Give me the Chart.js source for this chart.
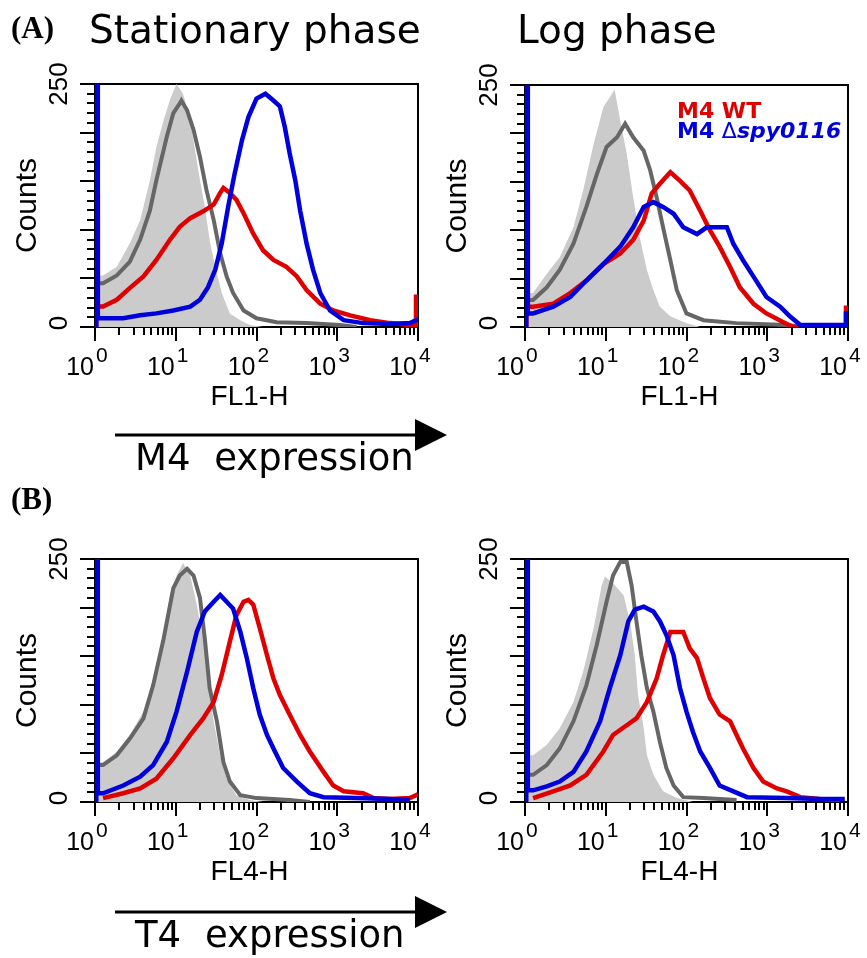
<!DOCTYPE html>
<html><head><meta charset="utf-8">
<script src="https://cdn.jsdelivr.net/npm/chart.js@4.4.1/dist/chart.umd.min.js"></script>
<style>
html,body{margin:0;padding:0;background:#fff;}
#page{position:relative;width:867px;height:958px;overflow:hidden;background:#fff;}
canvas{position:absolute;}
svg{position:absolute;left:0;top:0;pointer-events:none;}
</style></head><body>
<div id="page">
<canvas id="aL" width="440" height="350" style="left:0;top:60px"></canvas>
<canvas id="aR" width="427" height="350" style="left:440px;top:60px"></canvas>
<canvas id="bL" width="440" height="350" style="left:0;top:530px"></canvas>
<canvas id="bR" width="427" height="350" style="left:440px;top:530px"></canvas>
<svg width="867" height="958" xmlns="http://www.w3.org/2000/svg">
 <text x="11" y="38" font-family="Liberation Serif" font-weight="bold" font-size="31">(A)</text>
 <text x="11" y="509" font-family="Liberation Serif" font-weight="bold" font-size="31">(B)</text>
 <text x="89" y="43" font-family="DejaVu Sans" font-size="39">Stationary phase</text>
 <text x="517" y="43" font-family="DejaVu Sans" font-size="39">Log phase</text>
 <line x1="115" y1="435" x2="420" y2="435" stroke="#000" stroke-width="3"/>
 <polygon points="415,419 447,435 415,451" fill="#000"/>
 <text x="135" y="470" font-family="DejaVu Sans" font-size="37">M4<tspan dx="12"> expression</tspan></text>
 <line x1="115" y1="912" x2="420" y2="912" stroke="#000" stroke-width="3"/>
 <polygon points="415,896 447,912 415,928" fill="#000"/>
 <text x="135" y="947" font-family="DejaVu Sans" font-size="37">T4<tspan dx="12"> expression</tspan></text>
 <text x="677" y="118" font-family="DejaVu Sans" font-weight="bold" font-size="22" fill="#e00000">M4 WT</text>
 <text x="677" y="138" font-family="DejaVu Sans" font-size="22" fill="#0000dd"><tspan font-weight="bold">M4 </tspan><tspan>Δ</tspan><tspan font-weight="bold" font-style="italic">spy0116</tspan></text>
</svg>
</div>
<script>
// ---- tick labels ----
const X_EXPONENTS = [0, 1, 2, 3, 4];
const Y_LABELS = [0, 250];
const Y_MAX = 250;

// ---- Panel A, stationary phase (FL1-H) ; x in log10 decades ----
const aL_fillD = [0.00,0.10,0.27,0.43,0.56,0.68,0.76,0.85,0.93,1.01,1.09,1.16,1.22,1.30,1.36,1.42,1.49,1.57,1.67,1.80,1.92,2.08];
const aL_fillC = [53,53,62,86,110,151,185,213,234,250,240,220,192,151,124,89,62,35,14,7,2,0];
const aL_grayD = [0.015,0.015,0.035,0.035,0.10,0.27,0.43,0.56,0.68,0.76,0.89,0.97,1.05,1.07,1.14,1.22,1.30,1.38,1.47,1.55,1.63,1.71,1.84,2.00,2.25,2.62,3.03,3.24];
const aL_grayC = [0,144,144,45,45,53,67,90,120,151,196,220,230,233,223,203,175,141,110,76,52,35,17,9,5,4,2,0];
const aL_redD  = [0.015,0.015,0.035,0.035,0.10,0.27,0.43,0.60,0.76,0.93,1.05,1.18,1.34,1.47,1.55,1.59,1.67,1.75,1.84,1.96,2.08,2.21,2.37,2.50,2.62,2.79,2.95,3.16,3.41,3.65,3.90,3.975,3.975,4.00];
const aL_redC  = [0,134,134,21,21,28,40,52,69,90,103,112,119,126,138,143,138,131,117,96,79,69,62,52,38,24,17,12,7,4,2,2,31,31];
const aL_blueD = [0.015,0.015,0.035,0.035,0.10,0.35,0.56,0.76,0.97,1.18,1.30,1.40,1.49,1.57,1.65,1.73,1.82,1.90,2.00,2.11,2.21,2.29,2.35,2.41,2.48,2.54,2.62,2.70,2.79,2.91,3.08,3.32,3.65,3.90,4.00];
const aL_blueC = [0,300,300,9,9,9,12,14,17,21,28,41,59,86,124,158,192,216,235,240,233,227,206,179,151,120,86,59,35,17,7,4,3,4,8];

// ---- Panel A, log phase (FL1-H) ----
const aR_fillD = [0.00,0.10,0.27,0.43,0.60,0.72,0.85,0.97,1.07,1.11,1.18,1.26,1.34,1.42,1.51,1.59,1.67,1.80,2.00,2.17];
const aR_fillC = [35,35,55,72,103,141,189,227,240,245,213,179,134,93,59,38,21,11,4,0];
const aR_grayD = [0.015,0.015,0.035,0.035,0.10,0.27,0.43,0.60,0.76,0.89,1.01,1.14,1.24,1.34,1.47,1.55,1.63,1.71,1.80,1.88,2.00,2.21,2.62,3.24,3.45];
const aR_grayC = [0,120,120,28,28,41,59,86,124,158,186,196,210,196,182,162,134,103,69,38,14,7,4,2,0];
const aR_redD  = [0.015,0.015,0.035,0.035,0.10,0.35,0.56,0.76,0.97,1.18,1.34,1.47,1.57,1.67,1.80,1.92,2.04,2.17,2.29,2.41,2.54,2.66,2.83,2.99,3.20,3.32,3.975,3.975,4.00];
const aR_redC  = [0,134,134,21,21,24,35,48,65,76,90,110,138,148,160,151,141,120,100,83,62,41,24,14,5,0,0,20,20];
const aR_blueD = [0.015,0.015,0.035,0.035,0.10,0.35,0.56,0.76,0.97,1.18,1.34,1.47,1.59,1.71,1.84,1.96,2.13,2.25,2.41,2.50,2.58,2.70,2.83,2.99,3.16,3.28,3.41,3.65,3.975,3.975,4.00];
const aR_blueC = [0,300,300,14,14,21,31,48,65,83,103,124,129,124,117,103,96,103,103,103,86,69,52,31,21,11,2,2,2,14,14];

// ---- Panel B, stationary phase (FL4-H) ----
const bL_fillD = [0.00,0.10,0.27,0.43,0.60,0.72,0.85,0.93,1.01,1.09,1.18,1.26,1.34,1.40,1.47,1.55,1.63,1.75,1.92,2.08];
const bL_fillC = [41,41,52,69,93,124,168,213,233,246,233,203,168,124,83,48,24,7,2,0];
const bL_grayD = [0.015,0.015,0.035,0.035,0.10,0.27,0.43,0.60,0.72,0.85,0.97,1.05,1.14,1.22,1.30,1.36,1.42,1.51,1.59,1.67,1.80,2.00,2.41,2.66];
const bL_grayC = [0,140,140,38,38,48,65,86,120,168,220,233,240,233,210,168,117,83,41,21,7,4,2,0];
const bL_redD  = [0.10,0.35,0.56,0.76,0.97,1.18,1.34,1.47,1.57,1.67,1.75,1.84,1.90,1.96,2.04,2.13,2.21,2.29,2.41,2.54,2.66,2.83,2.95,3.08,3.32,3.45,3.65,3.90,4.00];
const bL_redC  = [4,9,14,24,45,69,86,103,131,165,192,206,208,203,179,151,127,110,90,69,52,31,17,11,9,4,3,4,8];
const bL_blueD = [0.015,0.015,0.035,0.035,0.10,0.35,0.56,0.72,0.89,1.01,1.14,1.26,1.36,1.47,1.55,1.63,1.71,1.80,1.88,1.96,2.04,2.13,2.21,2.33,2.50,2.66,2.83,3.24,3.65,3.90];
const bL_blueC = [0,300,300,9,9,17,26,38,62,93,134,175,196,206,213,206,199,175,148,117,90,69,55,35,21,9,5,4,3,2];

// ---- Panel B, log phase (FL4-H) ----
const bR_fillD = [0.00,0.10,0.27,0.43,0.60,0.72,0.85,0.95,0.99,1.09,1.22,1.30,1.36,1.40,1.47,1.51,1.59,1.71,1.88,2.08];
const bR_fillC = [48,48,59,76,103,134,179,223,232,225,213,186,151,110,76,48,28,11,4,0];
const bR_grayD = [0.015,0.015,0.035,0.035,0.10,0.27,0.43,0.60,0.76,0.89,1.01,1.09,1.18,1.26,1.32,1.38,1.44,1.51,1.59,1.67,1.75,1.84,1.96,2.21,2.62];
const bR_grayC = [0,140,140,28,28,38,55,83,120,162,206,233,247,247,223,186,151,117,93,62,35,17,5,4,2];
const bR_redD  = [0.10,0.35,0.56,0.76,0.97,1.09,1.26,1.38,1.51,1.63,1.71,1.80,1.96,2.04,2.13,2.21,2.29,2.41,2.54,2.62,2.70,2.83,2.95,3.12,3.24,3.41,3.65,3.90];
const bR_redC  = [4,11,17,28,52,69,79,86,103,127,151,175,175,158,148,127,107,90,83,69,55,35,21,14,11,5,3,2];
const bR_blueD = [0.015,0.015,0.035,0.035,0.10,0.27,0.43,0.60,0.76,0.93,1.05,1.18,1.28,1.36,1.47,1.59,1.67,1.75,1.84,1.92,2.00,2.08,2.17,2.29,2.41,2.58,2.75,3.24,3.65,3.96];
const bR_blueC = [0,300,300,12,12,16,21,31,52,83,117,151,186,198,201,196,186,172,151,117,93,72,52,35,17,11,5,4,3,3];

const BLUE = '#0000dc', RED = '#e00000', DARK = '#666666', LIGHT = '#cbcbcb';
const SANS = '"Liberation Sans", Arial, Helvetica, sans-serif';

function xy(d, c) { return d.map((v, i) => ({ x: Math.pow(10, v), y: c[i] })); }

const framePlugin = {
  id: 'frame',
  beforeDatasetsDraw(chart) {
    const { ctx, chartArea: a } = chart;
    ctx.save();
    ctx.strokeStyle = '#000'; ctx.lineWidth = 2;
    ctx.strokeRect(a.left, a.top, a.right - a.left, a.bottom - a.top);
    ctx.restore();
  },
  afterDraw(chart, args, opts) {
    const { ctx, chartArea: a } = chart;
    const xs = chart.scales.x, ys = chart.scales.y;
    ctx.save();
    ctx.strokeStyle = '#000'; ctx.lineWidth = 2; ctx.lineCap = 'butt';
    const seg = (x1, y1, x2, y2) => { ctx.beginPath(); ctx.moveTo(x1, y1); ctx.lineTo(x2, y2); ctx.stroke(); };
    for (let v = 0; v <= Y_MAX; v += 10) {
      const py = Math.round(ys.getPixelForValue(v));
      const len = (v % 50 === 0) ? 15 : 8;
      seg(a.left - len, py, a.left, py);
    }
    for (let e = 0; e <= 4; e++) {
      for (let m = 1; m <= 9; m++) {
        const v = m * Math.pow(10, e);
        if (v > 10000) break;
        const px = Math.round(xs.getPixelForValue(v));
        const len = (m === 1) ? 14 : 8;
        seg(px, a.bottom, px, a.bottom + len);
      }
    }
    ctx.fillStyle = '#000';
    ctx.textBaseline = 'alphabetic';
    X_EXPONENTS.forEach(e => {
      const px = xs.getPixelForValue(Math.pow(10, e));
      ctx.font = '25px ' + SANS; ctx.textAlign = 'right';
      ctx.fillText('10', px - 1, a.bottom + 48);
      ctx.font = '21px ' + SANS; ctx.textAlign = 'left';
      ctx.fillText(String(e), px + 1, a.bottom + 35);
    });
    ctx.font = '28px ' + SANS; ctx.textAlign = 'center';
    ctx.fillText(opts.title, (a.left + a.right) / 2 - 7, a.bottom + 78);
    Y_LABELS.forEach(v => {
      const py = ys.getPixelForValue(v);
      ctx.save();
      ctx.translate(a.left - 28, py - (v === 0 ? 4 : 0));
      ctx.rotate(-Math.PI / 2);
      ctx.font = '26px ' + SANS; ctx.textAlign = 'center';
      ctx.fillText(String(v), 0, 0);
      ctx.restore();
    });
    ctx.save();
    ctx.translate(a.left - 59, (a.top + a.bottom) / 2);
    ctx.rotate(-Math.PI / 2);
    ctx.font = '30px ' + SANS; ctx.textAlign = 'center';
    ctx.fillText('Counts', 0, 0);
    ctx.restore();
    ctx.restore();
  }
};

function panel(id, pad, title, s) {
  const line = (data, color, w) => ({ data, borderColor: color, borderWidth: w, fill: false, pointRadius: 0, tension: 0, borderJoinStyle: 'miter' });
  new Chart(document.getElementById(id), {
    type: 'line',
    data: {
      datasets: [
        line(xy(s.blueD, s.blueC), BLUE, 4.5),
        line(xy(s.redD, s.redC), RED, 4.5),
        line(xy(s.grayD, s.grayC), DARK, 4),
        { data: xy(s.fillD, s.fillC), borderColor: 'rgba(0,0,0,0)', borderWidth: 0, backgroundColor: LIGHT, fill: 'origin', pointRadius: 0, tension: 0 }
      ]
    },
    options: {
      responsive: false, animation: false, events: [],
      layout: { padding: pad },
      plugins: { legend: { display: false }, tooltip: { enabled: false }, frame: { title } },
      scales: {
        x: { type: 'logarithmic', min: 1, max: 10000, display: false },
        y: { type: 'linear', min: 0, max: Y_MAX, display: false }
      }
    },
    plugins: [framePlugin]
  });
}

panel('aL', { left: 95, top: 24, right: 22, bottom: 83 }, 'FL1-H',
  { fillD: aL_fillD, fillC: aL_fillC, grayD: aL_grayD, grayC: aL_grayC, redD: aL_redD, redC: aL_redC, blueD: aL_blueD, blueC: aL_blueC });
panel('aR', { left: 85, top: 25, right: 19, bottom: 83 }, 'FL1-H',
  { fillD: aR_fillD, fillC: aR_fillC, grayD: aR_grayD, grayC: aR_grayC, redD: aR_redD, redC: aR_redC, blueD: aR_blueD, blueC: aR_blueC });
panel('bL', { left: 95, top: 29, right: 22, bottom: 78 }, 'FL4-H',
  { fillD: bL_fillD, fillC: bL_fillC, grayD: bL_grayD, grayC: bL_grayC, redD: bL_redD, redC: bL_redC, blueD: bL_blueD, blueC: bL_blueC });
panel('bR', { left: 85, top: 29, right: 19, bottom: 78 }, 'FL4-H',
  { fillD: bR_fillD, fillC: bR_fillC, grayD: bR_grayD, grayC: bR_grayC, redD: bR_redD, redC: bR_redC, blueD: bR_blueD, blueC: bR_blueC });
</script>
</body></html>
